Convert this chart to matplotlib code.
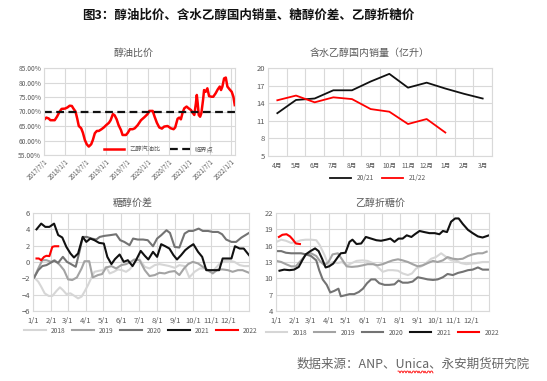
import numpy as np
import pandas as pd
import matplotlib
matplotlib.use("Agg")
import matplotlib.pyplot as plt
from matplotlib.lines import Line2D
from matplotlib.ticker import FuncFormatter

plt.rcParams['font.family'] = ['Noto Sans CJK SC', 'DejaVu Sans']

# ---- 醇油比价 ----
ratio_dates = ["2017-07-01", "2017-07-21", "2017-08-11", "2017-08-26", "2017-10-03", "2017-10-23",
               "2017-11-16", "2017-12-03", "2018-01-02", "2018-01-23", "2018-02-12", "2018-03-03",
               "2018-03-17", "2018-04-04", "2018-04-19", "2018-05-03", "2018-05-24", "2018-06-08",
               "2018-06-25", "2018-07-12", "2018-07-30", "2018-08-20", "2018-09-04", "2018-09-21",
               "2018-10-09", "2018-10-26", "2018-11-19", "2018-12-09", "2018-12-30", "2019-01-23",
               "2019-02-07", "2019-02-27", "2019-03-14", "2019-04-01", "2019-04-18", "2019-05-09",
               "2019-05-23", "2019-06-22", "2019-07-09", "2019-07-27", "2019-08-20", "2019-09-07",
               "2019-10-03", "2019-11-01", "2019-11-30", "2019-12-29", "2020-01-14", "2020-02-12",
               "2020-02-29", "2020-03-20", "2020-04-10", "2020-05-03", "2020-05-23", "2020-06-22",
               "2020-07-21", "2020-08-14", "2020-08-28", "2020-09-18", "2020-10-03", "2020-10-17",
               "2020-11-01", "2020-11-16", "2020-12-06", "2020-12-24", "2021-01-14", "2021-01-28",
               "2021-02-12", "2021-02-26", "2021-03-06", "2021-03-14", "2021-03-23", "2021-04-04",
               "2021-04-15", "2021-04-30", "2021-05-09", "2021-05-23", "2021-06-07", "2021-06-22",
               "2021-07-12", "2021-07-29", "2021-08-19", "2021-09-06", "2021-09-24", "2021-10-05",
               "2021-10-17", "2021-11-01", "2021-11-16", "2021-11-30", "2021-12-20", "2022-01-07",
               "2022-01-22", "2022-02-03"]
ratio_vals = [67.1, 67.9, 67.6, 67.0, 67.0, 68.2, 70.0, 70.9, 71.0, 71.4, 72.0, 71.9,
              71.0, 70.0, 67.6, 65.0, 64.2, 62.7, 60.2, 58.7, 57.9, 58.7, 60.2, 62.5,
              63.3, 63.3, 63.9, 64.5, 65.3, 66.1, 67.0, 69.1, 68.7, 67.3, 65.3, 63.6,
              61.9, 61.9, 62.7, 63.9, 63.9, 64.2, 65.3, 67.0, 68.0, 69.1, 70.2, 70.2,
              68.2, 66.1, 64.5, 64.1, 64.8, 65.0, 64.2, 63.9, 64.5, 67.5, 67.9, 67.3,
              69.6, 71.1, 71.7, 71.1, 70.5, 69.6, 68.8, 72.8, 75.7, 72.8, 68.8, 68.2,
              69.4, 74.0, 77.4, 76.8, 78.0, 75.3, 75.1, 75.1, 76.3, 77.6, 78.6, 77.4,
              78.6, 81.4, 81.7, 78.6, 77.6, 76.8, 75.1, 72.2]
critical = 70.0
ratio_ticks = ["2017-07-01", "2018-01-01", "2018-07-01", "2019-01-01", "2019-07-01",
               "2020-01-01", "2020-07-01", "2021-01-01", "2021-07-01", "2022-01-01"]

# ---- 含水乙醇国内销量 ----
months = ["4月", "5月", "6月", "7月", "8月", "9月", "10月", "11月", "12月", "1月", "2月", "3月"]
sales_2021 = [12.3, 14.55, 14.8, 16.2, 16.2, 17.7, 19.0, 16.65, 17.5, 16.5, 15.6, 14.8]
sales_2122 = [14.5, 15.3, 14.15, 15.0, 14.7, 13.0, 12.55, 10.45, 11.3, 9.0]

# ---- 糖醇价差 (day of year, value) ----
sp_day_2018 = [2, 9, 14, 20, 27, 33, 40, 46, 51, 57, 64, 71, 77, 83, 88, 94, 100, 105, 113, 119,
               125, 131, 138, 145, 152, 159, 165, 171, 176, 182, 191, 199, 208, 216, 225, 233,
               242, 250, 259, 267, 276, 285, 293, 302, 310, 319, 328, 336, 344, 353, 361, 369]
sp_val_2018 = [-1.89, -2.41, -3.02, -3.84, -4.16, -4.16, -3.55, -3.1, -3.43, -3.92, -3.84, -4.16,
               -4.45, -4.24, -3.63, -2.82, -1.89, -1.2, -1.07, -1.0, -0.59, -1.4, -1.2, -0.91,
               -1.0, -1.2, -0.91, -0.38, 0.22, 0.31, -0.59, -0.79, -0.38, -0.26, -0.38, -0.5,
               -0.71, -0.38, -0.5, -1.89, -1.2, -0.79, -0.79, -1.2, -0.91, -0.18, 0.15, 0.15,
               0.02, -0.38, -0.5, -0.5]
sp_day_2019 = [2, 9, 16, 23, 31, 37, 46, 53, 60, 67, 75, 83, 88, 96, 102, 111, 118, 125, 134, 142,
               151, 159, 167, 173, 182, 191, 199, 208, 216, 225, 233, 242, 250, 258, 265, 273,
               282, 290, 299, 307, 316, 324, 333, 341, 350, 358, 369]
sp_val_2019 = [-1.89, -0.79, 0.22, 0.22, 0.02, 0.22, -0.38, -1.0, -2.13, -2.21, -1.89, -0.79,
               0.1, 0.1, -1.89, -1.6, -1.48, -0.67, -0.5, -0.79, -0.38, -0.26, 0.02, 0.31,
               0.22, -1.0, -1.72, -1.6, -1.32, -1.4, -1.2, -1.11, -1.6, -0.79, -0.26, 0.02,
               -0.18, -0.59, -1.0, -1.4, -0.91, -0.91, -1.0, -1.2, -1.0, -1.0, -1.32]
sp_day_2020 = [2, 9, 16, 23, 30, 36, 43, 51, 58, 65, 73, 80, 85, 92, 100, 108, 114, 122, 131, 142,
               149, 156, 165, 171, 179, 188, 196, 205, 212, 219, 228, 234, 242, 250, 259, 266,
               273, 283, 290, 299, 307, 316, 323, 330, 339, 347, 356, 369]
sp_val_2020 = [-1.89, -1.0, -0.5, -0.38, -0.1, 0.15, -0.1, 0.63, 0.02, -0.26, -0.59, 1.45,
               3.07, 3.07, 2.87, 2.75, 3.07, 3.2, 3.28, 3.4, 2.67, 2.46, 2.06, 2.87,
               2.75, 2.75, 2.67, 1.93, 2.87, 3.28, 3.89, 3.56, 1.85, 1.77, 3.48, 3.8,
               3.8, 4.09, 3.8, 3.8, 3.68, 3.68, 3.4, 2.75, 2.46, 2.46, 2.99, 3.56]
sp_day_2021 = [6, 14, 21, 28, 36, 43, 50, 57, 64, 70, 77, 85, 91, 98, 105, 113, 121, 127, 134, 140,
               148, 155, 162, 170, 176, 184, 191, 197, 205, 212, 219, 226, 233, 240, 246, 253,
               260, 267, 274, 282, 289, 296, 304, 311, 318, 324, 332, 339, 345, 353, 360, 369]
sp_val_2021 = [4.0, 4.7, 4.3, 4.3, 4.7, 3.3, 3.0, 1.85, 1.04, 0.55, 1.04, 3.07,
               2.46, 2.87, 2.67, 2.34, 2.26, 0.63, -0.26, 0.35, 0.92, 0.02, 0.22, -0.5,
               0.22, 1.36, 0.76, 0.31, 1.24, 0.63, 2.18, 1.93, 1.65, 0.84, 0.31, 0.84,
               1.45, 1.85, 2.18, 1.24, 0.63, -1.0, -1.0, -1.0, -1.0, 0.43, 0.43, 0.43,
               1.93, 1.65, 1.65, 0.84]
sp_day_2022 = [6, 10, 14, 19, 23, 28, 33, 37, 43]
sp_val_2022 = [0.43, 0.43, 0.22, 0.63, 0.76, 0.72, 1.85, 1.93, 1.93]

# ---- 乙醇折糖价 (day of year, value) ----
ep_day_2018 = [1, 9, 17, 26, 34, 43, 51, 60, 69, 75, 83, 90, 97, 106, 113, 121, 130, 138, 148, 157,
               166, 174, 183, 192, 200, 209, 217, 226, 233, 240, 249, 257, 266, 274, 283, 292,
               300, 309, 317, 326, 334, 343, 354, 365]
ep_val_2018 = [16.7, 17.1, 16.9, 16.5, 16.7, 17.0, 17.1, 17.1, 17.0, 16.1, 14.3, 12.4,
               13.0, 12.8, 13.0, 12.4, 12.8, 13.2, 13.3, 13.2, 12.8, 12.1, 11.2, 11.5,
               11.5, 11.4, 10.9, 10.6, 10.9, 11.8, 12.2, 12.8, 13.6, 13.9, 14.6, 13.9,
               13.3, 13.2, 12.8, 12.6, 12.7, 12.8, 13.0, 13.0]
ep_day_2019 = [1, 9, 17, 26, 34, 43, 51, 60, 69, 75, 83, 90, 97, 106, 113, 121, 130, 140, 149, 157,
               166, 174, 183, 192, 200, 209, 217, 226, 234, 243, 252, 260, 269, 277, 286, 294,
               303, 312, 320, 329, 337, 346, 354, 361]
ep_val_2019 = [13.2, 13.0, 12.6, 12.2, 12.2, 13.3, 14.3, 14.6, 14.1, 13.2, 12.4, 13.0,
               14.4, 14.6, 13.5, 12.2, 12.1, 12.2, 12.4, 12.6, 12.6, 12.4, 12.6, 13.0,
               13.3, 13.5, 13.3, 13.0, 12.6, 12.2, 12.4, 12.8, 13.2, 13.0, 13.3, 13.9,
               13.6, 13.5, 13.6, 14.1, 14.4, 14.6, 14.6, 14.9]
ep_day_2020 = [1, 9, 17, 26, 34, 43, 51, 60, 69, 74, 80, 87, 93, 100, 107, 111, 119, 126, 134, 142,
               149, 156, 163, 170, 177, 186, 194, 203, 210, 217, 226, 234, 243, 252, 260, 269,
               277, 286, 294, 303, 312, 320, 329, 337, 346, 354, 365]
ep_val_2020 = [15.0, 15.0, 14.7, 14.6, 14.6, 14.6, 14.4, 14.1, 13.3, 11.5, 9.8, 8.8,
               7.4, 7.7, 8.1, 6.7, 6.9, 7.1, 7.1, 7.5, 8.1, 9.1, 9.8, 9.8,
               9.1, 8.8, 8.8, 8.9, 9.6, 9.2, 9.2, 9.4, 10.2, 10.0, 9.8, 9.7,
               9.8, 10.2, 10.8, 10.6, 11.0, 11.2, 11.5, 11.6, 12.0, 11.6, 11.6]
ep_day_2021 = [6, 14, 23, 31, 39, 45, 51, 59, 67, 73, 79, 85, 91, 98, 106, 111, 119, 126, 131, 138,
               146, 154, 163, 172, 180, 189, 196, 203, 210, 217, 224, 232, 238, 246, 254, 263,
               272, 280, 286, 293, 300, 307, 313, 320, 329, 337, 346, 354, 365]
ep_val_2021 = [11.4, 11.6, 11.5, 11.6, 12.1, 13.3, 14.4, 15.0, 15.5, 15.0, 13.6, 12.0,
               12.2, 12.7, 13.9, 14.6, 14.7, 16.7, 17.1, 16.3, 16.4, 17.6, 17.3, 17.0,
               16.9, 17.1, 17.3, 16.7, 17.3, 17.3, 17.9, 17.6, 18.1, 18.7, 18.5, 18.3,
               18.3, 18.1, 18.7, 18.5, 20.4, 21.0, 21.0, 20.0, 18.9, 18.3, 17.7, 17.5, 17.9]
ep_day_2022 = [5, 11, 18, 24, 29, 34, 41]
ep_val_2022 = [17.6, 18.0, 18.1, 17.7, 17.1, 16.4, 16.3]

month_days = [0, 31, 59, 90, 120, 151, 181, 212, 243, 273, 304, 334]
month_labels = ["1/1", "2/1", "3/1", "4/1", "5/1", "6/1", "7/1", "8/1", "9/1", "10/1", "11/1", "12/1"]

year_colors = {"2018": "#d6d6d6", "2019": "#a3a3a3", "2020": "#737373", "2021": "#111111", "2022": "#ff0000"}
grid_c = "#d9d9d9"
text_c = "#595959"


def style_axes(ax):
    for s in ax.spines.values():
        s.set_color(grid_c)
        s.set_linewidth(0.8)
    ax.tick_params(length=0, labelsize=5, colors=text_c, pad=2)
    ax.grid(True, color=grid_c, linewidth=0.8)
    ax.set_axisbelow(True)


fig = plt.figure(figsize=(5.47, 3.81), dpi=100)
fig.patch.set_facecolor("white")

fig.text(248 / 547, 1 - 15 / 381, "图3：醇油比价、含水乙醇国内销量、糖醇价差、乙醇折糖价",
         ha="center", va="center", fontsize=9, fontweight="bold", color="#111111")

# panel 1
ax1 = fig.add_axes([44 / 547, 1 - 155 / 381, 191 / 547, 87 / 381])
style_axes(ax1)
d = pd.to_datetime(ratio_dates)
ax1.plot(d, ratio_vals, color="#ff0000", lw=1.8, label="乙醇汽油比")
ax1.axhline(critical, color="#111111", lw=1.6, ls=(0, (3.5, 2)), label="临界点")
ax1.set_xlim(pd.Timestamp("2017-07-01"), pd.Timestamp("2022-02-05"))
ax1.set_ylim(55, 85)
ax1.set_yticks(np.arange(55, 86, 5))
ax1.yaxis.set_major_formatter(FuncFormatter(lambda v, p: f"{v:.2f}%"))
tk = pd.to_datetime(ratio_ticks)
ax1.set_xticks(tk)
ax1.set_xticklabels([t.strftime("%Y/%-m/%-d") for t in tk], rotation=45, ha="right",
                    rotation_mode="anchor", fontsize=4.5)
ax1.tick_params(axis="y", labelsize=4.8)
ax1.legend(loc="lower center", bbox_to_anchor=(0.6, -0.04), ncol=2, frameon=False,
           fontsize=4.5, handlelength=3.2, columnspacing=1.5, labelcolor=text_c)
fig.text(133 / 547, 1 - 53 / 381, "醇油比价", ha="center", va="center", fontsize=7.2, color=text_c)

# panel 2
ax2 = fig.add_axes([268 / 547, 1 - 156 / 381, 224 / 547, 88 / 381])
style_axes(ax2)
xm = np.arange(len(months))
ax2.plot(xm, sales_2021, color="#111111", lw=1.3, label="20/21")
ax2.plot(xm[:len(sales_2122)], sales_2122, color="#ff0000", lw=1.3, label="21/22")
ax2.set_xlim(-0.5, len(months) - 0.5)
ax2.set_ylim(5, 20)
ax2.set_yticks(np.arange(5, 21, 3))
ax2.set_xticks(xm)
ax2.set_xticklabels(months, fontsize=4.8)
ax2.set_xticks(np.arange(-0.5, len(months)), minor=True)
ax2.tick_params(which="minor", length=0)
ax2.tick_params(axis="x", pad=4)
ax2.grid(False, axis="x", which="major")
ax2.grid(True, axis="x", which="minor", color=grid_c, linewidth=0.8)
ax2.tick_params(axis="y", labelsize=5.5)
ax2.legend(loc="upper center", bbox_to_anchor=(0.49, -0.14), ncol=2, frameon=False,
           fontsize=4.8, handlelength=3.2, columnspacing=1.2, labelcolor=text_c)
fig.text(370 / 547, 1 - 53 / 381, "含水乙醇国内销量（亿升）", ha="center", va="center",
         fontsize=7.2, color=text_c)

# panel 3
ax3 = fig.add_axes([33 / 547, 1 - 311 / 381, 216 / 547, 98 / 381])
style_axes(ax3)
for yr, dd, vv in [("2018", sp_day_2018, sp_val_2018), ("2019", sp_day_2019, sp_val_2019),
                   ("2020", sp_day_2020, sp_val_2020), ("2021", sp_day_2021, sp_val_2021),
                   ("2022", sp_day_2022, sp_val_2022)]:
    ax3.plot(dd, vv, color=year_colors[yr], lw=1.5, label=yr)
ax3.set_xlim(0, 369)
ax3.set_ylim(-6, 6)
ax3.set_yticks(np.arange(-6, 7, 2))
ax3.set_xticks(month_days)
ax3.set_xticklabels(month_labels, fontsize=5.5)
ax3.tick_params(axis="x", pad=4)
ax3.tick_params(axis="y", labelsize=5.5)
ax3.legend(loc="upper center", bbox_to_anchor=(0.5, -0.1), ncol=5, frameon=False,
           fontsize=4.8, handlelength=3.2, columnspacing=1.0, labelcolor=text_c)
fig.text(133 / 547, 1 - 203 / 381, "糖醇价差", ha="center", va="center", fontsize=7.2, color=text_c)

# panel 4
ax4 = fig.add_axes([276 / 547, 1 - 311 / 381, 213 / 547, 98 / 381])
style_axes(ax4)
for yr, dd, vv in [("2018", ep_day_2018, ep_val_2018), ("2019", ep_day_2019, ep_val_2019),
                   ("2020", ep_day_2020, ep_val_2020), ("2021", ep_day_2021, ep_val_2021),
                   ("2022", ep_day_2022, ep_val_2022)]:
    ax4.plot(dd, vv, color=year_colors[yr], lw=1.5, label=yr)
ax4.set_xlim(0, 365)
ax4.set_ylim(4, 22)
ax4.set_yticks(np.arange(4, 23, 3))
ax4.set_xticks(month_days)
ax4.set_xticklabels(month_labels, fontsize=5.5)
ax4.tick_params(axis="x", pad=4)
ax4.tick_params(axis="y", labelsize=5.5)
ax4.legend(loc="upper center", bbox_to_anchor=(0.5, -0.12), ncol=5, frameon=False,
           fontsize=4.8, handlelength=3.2, columnspacing=1.0, labelcolor=text_c)
fig.text(380 / 547, 1 - 203 / 381, "乙醇折糖价", ha="center", va="center", fontsize=7.2, color=text_c)

# source note, with the spell-check squiggle under "Unica"
fig.text(297 / 547, 1 - 364 / 381, "数据来源：ANP、Unica、永安期货研究院", ha="left", va="center",
         fontsize=9, color="#666666")
wx = np.linspace(398, 433, 36)
wy = 372 + 0.9 * np.sign(np.sin(wx * np.pi / 1.5))
fig.add_artist(Line2D(wx / 547, 1 - wy / 381, color="#ff0000", lw=0.6, transform=fig.transFigure))

fig.savefig("out.png", dpi=100, facecolor="white")
